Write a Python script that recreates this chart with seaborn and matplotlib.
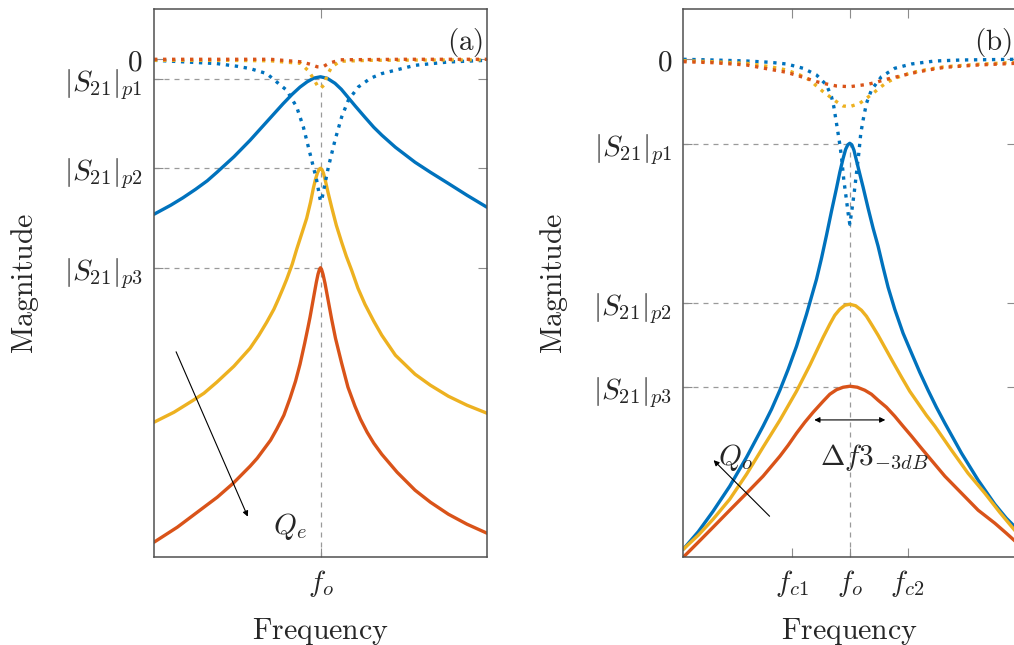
"""Resonator |S21| sketch: (a) varying Qe, (b) varying Qo
"""
import numpy as np
import pandas as pd
import seaborn as sns
import matplotlib
matplotlib.use('Agg')
import matplotlib.pyplot as plt

# colours (MATLAB default order)
blue, yellow, red = '#0072BD', '#EDB120', '#D95319'
grey = '#9a9a9a'

# ---- panel (a): transmission / reflection for three external Q ----
a_ytick_vals = [0.0, -2.0, -10.9, -20.9]
a_xtick_vals = [0.0]
a_xtick_labels = [r'$f_o$']

a_blue_x = [-1.0, -0.9, -0.826, -0.75, -0.68, -0.622, -0.52, -0.423, -0.32, -0.225,
            -0.17, -0.123, -0.08, -0.04, 0.0, 0.04, 0.087, 0.125, 0.165, 0.21, 0.267,
            0.32, 0.369, 0.45, 0.568, 0.66, 0.766, 0.88, 1.0]
a_blue = [-15.5, -14.6, -13.85, -13.0, -12.15, -11.3, -9.75, -8.1, -6.2, -4.45,
          -3.5, -2.78, -2.25, -1.88, -1.75, -1.9, -2.4, -3.0, -3.8, -4.7, -5.8,
          -6.8, -7.6, -8.8, -10.3, -11.3, -12.4, -13.6, -14.8]

a_yellow_x = [-1.0, -0.88, -0.764, -0.7, -0.623, -0.52, -0.423, -0.37, -0.323, -0.28,
              -0.253, -0.225, -0.203, -0.17, -0.143, -0.11, -0.083, -0.06, -0.043,
              -0.03, -0.018, -0.008, 0.0, 0.008, 0.018, 0.03, 0.045, 0.067, 0.095,
              0.127, 0.155, 0.187, 0.225, 0.267, 0.32, 0.368, 0.45, 0.568, 0.66,
              0.768, 0.88, 1.0]
a_yellow = [-36.3, -35.3, -34.1, -33.4, -32.3, -30.7, -28.9, -27.6, -26.3, -25.0,
            -24.0, -22.9, -22.0, -20.5, -19.0, -17.3, -15.9, -14.3, -12.9,
            -12.0, -11.35, -11.0, -10.9, -11.0, -11.4, -12.2, -13.3, -14.8, -16.6,
            -18.3, -19.7, -21.1, -22.9, -24.5, -26.2, -27.6, -29.6, -31.5, -32.6,
            -33.7, -34.6, -35.4]

a_red_x = [-1.0, -0.86, -0.724, -0.62, -0.524, -0.423, -0.38, -0.34, -0.3, -0.263,
           -0.22, -0.183, -0.15, -0.123, -0.095, -0.075, -0.063, -0.05, -0.037,
           -0.025, -0.015, -0.006, 0.0, 0.006, 0.015, 0.027, 0.047, 0.067, 0.09,
           0.127, 0.165, 0.207, 0.24, 0.28, 0.32, 0.368, 0.46, 0.568, 0.66, 0.768,
           0.88, 1.0]
a_red = [-48.3, -46.8, -45.1, -43.8, -42.4, -40.7, -39.9, -39.0, -38.1, -37.0,
         -35.6, -33.9, -32.2, -30.5, -28.4, -26.8, -25.8, -24.6, -23.4,
         -22.3, -21.5, -21.0, -20.85, -21.0, -21.5, -22.4, -24.2, -26.0, -27.9,
         -30.4, -32.8, -34.7, -36.0, -37.3, -38.4, -39.5, -41.3, -43.1, -44.3, -45.5,
         -46.5, -47.4]

a_blue_dot_x = [-1.0, -0.623, -0.5, -0.423, -0.323, -0.263, -0.203, -0.143, -0.103,
                -0.063, -0.023, 0.0, 0.007, 0.047, 0.087, 0.127, 0.167, 0.227, 0.3,
                0.368, 0.568, 0.768, 1.0]
a_blue_dot = [-0.1, -0.43, -0.7, -0.93, -1.43, -2.27, -3.1, -4.77, -6.77,
              -9.43, -12.1, -14.2, -14.1, -10.8, -8.1, -5.77, -4.1, -2.77, -1.9,
              -1.43, -0.6, -0.27, -0.1]

a_yellow_dot_x = [-1.0, -0.6, -0.3, -0.2, -0.12, -0.07, -0.04, -0.02, 0.0, 0.02,
                  0.04, 0.067, 0.117, 0.3, 1.0]
a_yellow_dot = [-0.1, -0.1, -0.15, -0.3, -0.4, -1.2, -2.0, -2.6, -2.9, -2.6,
                -1.6, -0.77, -0.2, -0.1, -0.05]

a_red_dot_x = [-1.0, -0.3, -0.12, -0.06, -0.02, 0.0, 0.02, 0.05, 0.12, 0.5, 1.0]
a_red_dot = [0.0, 0.0, -0.25, -0.5, -0.75, -0.77, -0.7, -0.4, -0.05, 0.0, 0.0]

# ---- panel (b): three unloaded Q ----
b_ytick_vals = [0.0, -8.45, -24.4, -32.8]
b_xtick_vals = [-0.35, 0.0, 0.347]
b_xtick_labels = [r'$f_{c1}$', r'$f_o$', r'$f_{c2}$']

b_blue_x = [-1.0, -0.91, -0.821, -0.721, -0.62, -0.521, -0.47, -0.42, -0.37, -0.32,
            -0.26, -0.2, -0.17, -0.14, -0.11, -0.08, -0.06, -0.04, -0.025, -0.012,
            0.0, 0.012, 0.025, 0.05, 0.08, 0.11, 0.14, 0.17, 0.2, 0.23, 0.27, 0.32,
            0.371, 0.42, 0.47, 0.52, 0.571, 0.671, 0.771, 0.871, 0.94, 1.0]
b_blue = [-49.0, -47.25, -45.2, -42.7, -39.8, -36.7, -35.0, -33.1, -31.0, -28.7,
          -25.5, -22.0, -19.9, -17.6, -15.2, -12.9, -11.3, -9.9, -9.0, -8.55,
          -8.4, -8.55, -9.1, -10.8, -12.8, -14.9, -16.9, -18.7, -20.8, -22.8, -25.0, -27.4,
          -29.4, -31.3, -33.1, -34.8, -36.4, -39.4, -42.1, -44.5, -45.9, -46.9]

b_yellow_x = [-1.0, -0.91, -0.821, -0.721, -0.62, -0.521, -0.42, -0.32, -0.28, -0.24,
              -0.2, -0.16, -0.12, -0.09, -0.06, -0.03, 0.0, 0.035, 0.07, 0.1, 0.13,
              0.17, 0.21, 0.26, 0.311, 0.36, 0.41, 0.46, 0.511, 0.611, 0.71, 0.811,
              0.9, 1.0]
b_yellow = [-49.0, -47.6, -46.0, -44.0, -41.5, -38.8, -36.1, -33.2, -31.9, -30.6,
            -29.2, -27.8, -26.5, -25.6, -25.0, -24.6, -24.5, -24.65, -25.1, -25.7, -26.5,
            -27.6, -28.8, -30.3, -31.8, -33.2, -34.4, -35.6, -36.7, -39.1, -41.4, -43.4,
            -45.3, -47.3]

b_red_x = [-1.0, -0.91, -0.821, -0.721, -0.62, -0.521, -0.42, -0.37, -0.32, -0.27,
           -0.22, -0.16, -0.12, -0.08, -0.04, 0.0, 0.045, 0.09, 0.13, 0.17, 0.22,
           0.27, 0.32, 0.371, 0.42, 0.47, 0.571, 0.671, 0.771, 0.871, 0.94, 1.0]
b_red = [-49.8, -48.3, -46.8, -45.1, -43.4, -41.7, -39.7, -38.6, -37.4, -36.3,
         -35.3, -34.2, -33.5, -33.05, -32.8, -32.7, -32.8, -33.1, -33.5, -34.1, -34.8,
         -35.7, -36.7, -37.7, -38.7, -39.7, -41.7, -43.4, -45.1, -46.4, -47.4, -48.3]

b_blue_dot_x = [-1.0, -0.821, -0.62, -0.48, -0.38, -0.28, -0.2, -0.14, -0.11, -0.096,
                -0.08, -0.064, -0.05, -0.036, -0.02, -0.01, 0.0, 0.01, 0.026, 0.04,
                0.054, 0.066, 0.08, 0.1, 0.13, 0.19, 0.27, 0.37, 0.511, 0.671, 1.0]
b_blue_dot = [0.0, -0.07, -0.17, -0.3, -0.47, -0.9, -1.57, -2.57, -3.74, -4.74,
              -6.4, -8.07, -9.74, -12.07, -14.07, -15.4, -16.5, -15.4, -13.4, -11.4,
              -9.4, -7.4, -6.07, -4.4, -3.07, -1.74, -0.9, -0.47, -0.17, -0.07, 0.0]

b_yellow_dot_x = [-1.0, -0.821, -0.62, -0.48, -0.38, -0.3, -0.24, -0.2, -0.16, -0.12,
                  -0.08, -0.04, 0.0, 0.06, 0.1, 0.14, 0.18, 0.22, 0.27, 0.37, 0.47,
                  0.571, 0.771, 1.0]
b_yellow_dot = [-0.14, -0.24, -0.4, -0.74, -1.07, -1.57, -2.07, -2.67, -3.24, -3.74,
                -4.24, -4.67, -4.74, -4.4, -3.9, -3.4, -2.84, -2.34, -1.9, -1.34, -1.0,
                -0.74, -0.5, -0.3]

b_red_dot_x = [-1.0, -0.821, -0.62, -0.48, -0.38, -0.28, -0.2, -0.14, -0.08, 0.0,
               0.11, 0.17, 0.22, 0.27, 0.37, 0.47, 0.571, 0.771, 1.0]
b_red_dot = [-0.24, -0.34, -0.57, -1.0, -1.3, -1.8, -2.24, -2.47, -2.67, -2.74,
             -2.5, -2.24, -2.0, -1.8, -1.4, -1.07, -0.8, -0.57, -0.4]

ytick_labels = [r'$0$', r'$|S_{21}|_{p1}$', r'$|S_{21}|_{p2}$', r'$|S_{21}|_{p3}$']
ylim = (-49.75, 5.0)
fs = 21

sns.set_style('ticks')
plt.rcParams['mathtext.fontset'] = 'cm'
plt.rcParams['font.family'] = ['DejaVu Serif']

dotted = (0, (1, 1.7))


def draw(ax, x, y, color, ls='-'):
    df = pd.DataFrame({'f': x, 'mag': y})
    sns.lineplot(data=df, x='f', y='mag', ax=ax, color=color, lw=2.4,
                 sort=False, estimator=None, linestyle=ls)


def style_axes(ax, yticks, xticks, xlabels, tag):
    ax.set_xlim(-1, 1)
    ax.set_ylim(*ylim)
    # projection lines to the peaks
    ax.hlines(yticks[1:], -1, 0, colors=grey, lw=0.9, linestyles=(0, (4, 4)), zorder=0)
    ax.vlines(0, ylim[0], yticks[1], colors=grey, lw=0.9, linestyles=(0, (4, 4)), zorder=0)
    ax.set_yticks(yticks)
    ax.set_yticklabels(ytick_labels)
    ax.set_xticks(xticks)
    ax.set_xticklabels(xlabels)
    ax.tick_params(direction='in', length=6.5, width=0.8, color='#8c8c8c',
                   top=True, right=True, labelsize=fs, pad=8)
    for s in ax.spines.values():
        s.set_visible(True)
        s.set_color('#505050')
        s.set_linewidth(1.1)
    ax.set_xlabel(r'$\mathrm{Frequency}$', fontsize=fs + 0.5)
    ax.set_ylabel(r'$\mathrm{Magnitude}$', fontsize=fs + 0.5)
    ax.xaxis.set_label_coords(0.5, -0.108)
    ax.yaxis.set_label_coords(-0.34, 0.5)
    ax.text(0.988, 0.94, r'$\mathrm{(' + tag + ')}$', transform=ax.transAxes,
            ha='right', va='center', fontsize=fs)


fig = plt.figure(figsize=(10.14, 6.45), dpi=100)
bot = 1 - 556.7 / 645
h = 547.4 / 645
ax_a = fig.add_axes([154 / 1014, bot, 333 / 1014, h])
ax_b = fig.add_axes([683.3 / 1014, bot, 333 / 1014, h])

# (a)
draw(ax_a, a_blue_x, a_blue, blue)
draw(ax_a, a_yellow_x, a_yellow, yellow)
draw(ax_a, a_red_x, a_red, red)
draw(ax_a, a_blue_dot_x, a_blue_dot, blue, dotted)
draw(ax_a, a_yellow_dot_x, a_yellow_dot, yellow, dotted)
draw(ax_a, a_red_dot_x, a_red_dot, red, dotted)
style_axes(ax_a, a_ytick_vals, a_xtick_vals, a_xtick_labels, 'a')
ax_a.annotate('', xy=(-0.43, -46.0), xytext=(-0.874, -29.0),
              arrowprops=dict(arrowstyle='-|>', lw=0.8, color='black', mutation_scale=8))
ax_a.text(-0.183, -46.7, r'$Q_e$', fontsize=fs, ha='center', va='center')

# (b)
draw(ax_b, b_blue_x, b_blue, blue)
draw(ax_b, b_yellow_x, b_yellow, yellow)
draw(ax_b, b_red_x, b_red, red)
draw(ax_b, b_blue_dot_x, b_blue_dot, blue, dotted)
draw(ax_b, b_yellow_dot_x, b_yellow_dot, yellow, dotted)
draw(ax_b, b_red_dot_x, b_red_dot, red, dotted)
style_axes(ax_b, b_ytick_vals, b_xtick_vals, b_xtick_labels, 'b')
ax_b.annotate('', xy=(-0.83, -39.9), xytext=(-0.47, -45.9),
              arrowprops=dict(arrowstyle='-|>', lw=0.8, color='black', mutation_scale=8))
ax_b.text(-0.69, -39.8, r'$Q_o$', fontsize=fs, ha='center', va='center')
ax_b.annotate('', xy=(-0.23, -36.07), xytext=(0.23, -36.07),
              arrowprops=dict(arrowstyle='<|-|>', lw=0.8, color='black', mutation_scale=8))
ax_b.text(0.147, -40.6, r'$\Delta f3_{-3dB}$', fontsize=fs, ha='center', va='baseline')

fig.savefig('out.png', dpi=100)
